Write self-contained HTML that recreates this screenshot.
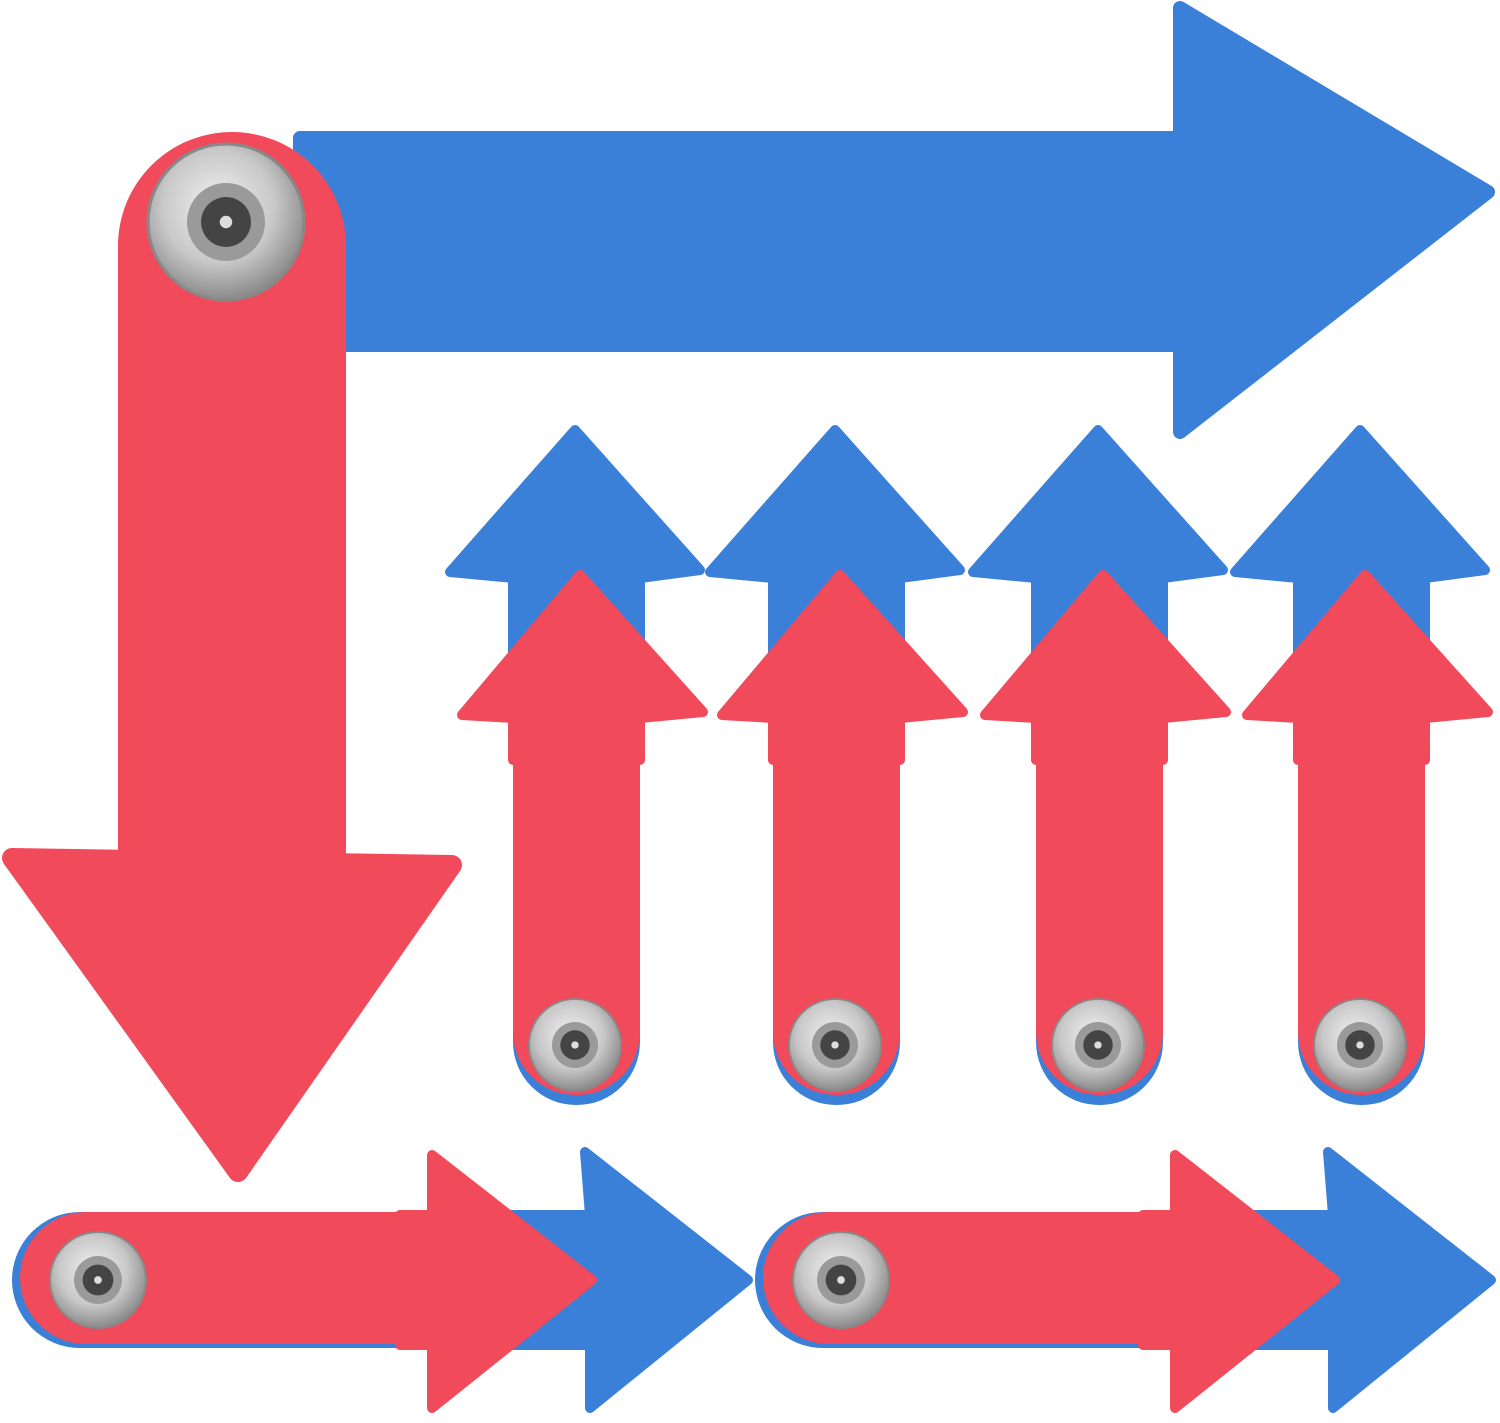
<!DOCTYPE html>
<html><head><style>html,body{margin:0;padding:0;background:#fff}svg{display:block}</style></head>
<body>
<svg width="1500" height="1423" viewBox="0 0 1500 1423" xmlns="http://www.w3.org/2000/svg">
<defs>
<radialGradient id="riv" cx="45%" cy="40%" r="60%">
<stop offset="0" stop-color="#f2f2f2"/><stop offset="0.6" stop-color="#c8c8c8"/><stop offset="1" stop-color="#8a8a8a"/>
</radialGradient>
<g id="rivet">
<circle r="1" fill="url(#riv)" stroke="#888" stroke-width="0.04"/>
<circle r="0.5" fill="#9a9a9a"/>
<circle r="0.32" fill="#444"/>
<circle r="0.08" fill="#ddd"/>
</g>
<g id="vert">
<path d="M575,430 L700,570 L640,578 L640,700 L513,700 L513,578 L450,572 Z" fill="#3b80d8" stroke="#3b80d8" stroke-width="10" stroke-linejoin="round"/>
<rect x="513" y="650" width="127" height="455" rx="63" fill="#3b80d8"/>
<rect x="513" y="640" width="127" height="455" rx="63" fill="#f04a5b"/>
<path d="M580,575 L703,712 L640,718 L640,760 L513,760 L513,718 L462,715 Z" fill="#f04a5b" stroke="#f04a5b" stroke-width="10" stroke-linejoin="round"/>
<use href="#rivet" transform="translate(575,1045) scale(46)"/>
</g>
<g id="horiz">
<path d="M585,1152 L748,1280 L590,1408 L590,1345 L500,1345 L500,1215 L590,1215 Z" fill="#3b80d8" stroke="#3b80d8" stroke-width="10" stroke-linejoin="round"/>
<rect x="12" y="1212" width="500" height="136" rx="68" fill="#3b80d8"/>
<rect x="20" y="1212" width="500" height="132" rx="66" fill="#f04a5b"/>
<path d="M432,1155 L592,1280 L432,1408 L432,1345 L400,1345 L400,1215 L432,1215 Z" fill="#f04a5b" stroke="#f04a5b" stroke-width="10" stroke-linejoin="round"/>
<use href="#rivet" transform="translate(98,1280) scale(48)"/>
</g>
</defs>
<!-- big blue -->
<path d="M1180,8 L1488,192 L1180,432 L1180,345 L300,345 L300,138 L1180,138 Z" fill="#3b80d8" stroke="#3b80d8" stroke-width="14" stroke-linejoin="round"/>
<!-- big red -->
<rect x="118" y="132" width="228" height="800" rx="114" fill="#f04a5b"/>
<path d="M12,858 L452,865 L238,1172 Z" fill="#f04a5b" stroke="#f04a5b" stroke-width="20" stroke-linejoin="round"/>
<rect x="118" y="700" width="228" height="170" fill="#f04a5b"/>
<use href="#rivet" transform="translate(226,222) scale(78)"/>
<use href="#vert"/>
<use href="#vert" transform="translate(260,0)"/>
<use href="#vert" transform="translate(523,0)"/>
<use href="#vert" transform="translate(785,0)"/>
<use href="#horiz"/>
<use href="#horiz" transform="translate(743,0)"/>
</svg>
</body></html>
